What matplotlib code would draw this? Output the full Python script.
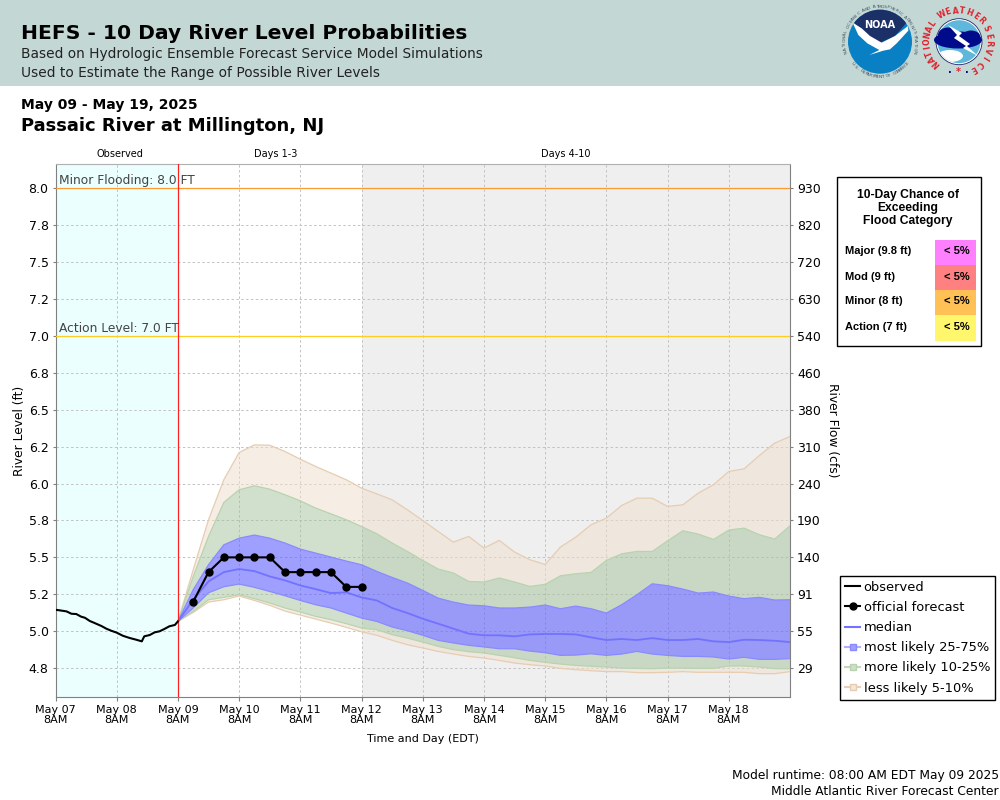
import numpy as np
import matplotlib
matplotlib.use("Agg")
import matplotlib.pyplot as plt
from matplotlib.lines import Line2D
from matplotlib.patches import Circle, Polygon, Rectangle, Ellipse

# days since May 07 8AM
obs_time = [0, .07, .18, .26, .34, .42, .48, .56, .64, .75, .83, .91, 1.0, 1.10, 1.21, 1.32, 1.41,
            1.45, 1.54, 1.62, 1.70, 1.78, 1.86, 1.95, 2.0]
obs_level = [5.145, 5.141, 5.134, 5.118, 5.116, 5.098, 5.091, 5.069, 5.055, 5.035, 5.017, 5.003, 4.990,
             4.969, 4.954, 4.942, 4.931, 4.965, 4.974, 4.992, 4.999, 5.015, 5.033, 5.042, 5.066]

fcst_time = [2.25, 2.5, 2.75, 3.0, 3.25, 3.5, 3.75, 4.0, 4.25, 4.5, 4.75, 5.0]
fcst_level = [5.2, 5.4, 5.5, 5.5, 5.5, 5.5, 5.4, 5.4, 5.4, 5.4, 5.3, 5.3]

# six hourly ensemble traces, May 09 8AM to May 19 8AM
ens_time = [2 + 0.25 * i for i in range(41)]
p95 = [5.066, 5.416, 5.755, 6.026, 6.210, 6.262, 6.260, 6.217, 6.165, 6.116, 6.071, 6.026, 5.969, 5.930,
       5.890, 5.822, 5.750, 5.676, 5.603, 5.642, 5.563, 5.615, 5.536, 5.484, 5.452, 5.570, 5.637, 5.721,
       5.766, 5.852, 5.901, 5.901, 5.845, 5.856, 5.935, 5.992, 6.082, 6.100, 6.190, 6.274, 6.319]
p90 = [5.066, 5.371, 5.642, 5.872, 5.958, 5.985, 5.962, 5.924, 5.883, 5.834, 5.795, 5.755, 5.709, 5.660,
       5.597, 5.540, 5.479, 5.421, 5.394, 5.337, 5.333, 5.360, 5.333, 5.303, 5.317, 5.375, 5.389, 5.398,
       5.479, 5.524, 5.540, 5.540, 5.612, 5.680, 5.658, 5.621, 5.685, 5.698, 5.653, 5.624, 5.714]
p75 = [5.066, 5.281, 5.450, 5.585, 5.630, 5.651, 5.630, 5.597, 5.556, 5.529, 5.502, 5.475, 5.450, 5.405,
       5.364, 5.326, 5.276, 5.224, 5.197, 5.177, 5.172, 5.157, 5.157, 5.163, 5.177, 5.152, 5.170, 5.152,
       5.123, 5.179, 5.247, 5.321, 5.308, 5.285, 5.258, 5.265, 5.238, 5.220, 5.229, 5.211, 5.213]
p50 = [5.066, 5.213, 5.337, 5.400, 5.421, 5.407, 5.371, 5.344, 5.310, 5.285, 5.258, 5.263, 5.229, 5.208,
       5.157, 5.123, 5.084, 5.051, 5.017, 4.983, 4.972, 4.972, 4.965, 4.978, 4.981, 4.981, 4.978, 4.958,
       4.940, 4.947, 4.940, 4.953, 4.940, 4.940, 4.947, 4.931, 4.926, 4.942, 4.940, 4.935, 4.926]
p25 = [5.066, 5.157, 5.260, 5.301, 5.319, 5.297, 5.269, 5.240, 5.208, 5.179, 5.157, 5.123, 5.089, 5.066,
       5.028, 5.003, 4.972, 4.938, 4.920, 4.904, 4.893, 4.881, 4.881, 4.865, 4.854, 4.836, 4.838, 4.847,
       4.836, 4.845, 4.863, 4.845, 4.836, 4.829, 4.829, 4.825, 4.811, 4.823, 4.809, 4.809, 4.814]
p10 = [5.066, 5.134, 5.213, 5.229, 5.247, 5.220, 5.191, 5.157, 5.130, 5.100, 5.078, 5.051, 5.021, 5.010,
       4.976, 4.953, 4.926, 4.897, 4.875, 4.861, 4.852, 4.836, 4.820, 4.802, 4.789, 4.777, 4.768, 4.762,
       4.757, 4.750, 4.748, 4.746, 4.750, 4.750, 4.748, 4.748, 4.764, 4.764, 4.757, 4.746, 4.746]
p05 = [5.066, 5.127, 5.197, 5.213, 5.238, 5.208, 5.175, 5.136, 5.109, 5.082, 5.055, 5.026, 4.996, 4.972,
       4.938, 4.908, 4.886, 4.863, 4.845, 4.829, 4.818, 4.802, 4.784, 4.773, 4.764, 4.748, 4.739, 4.732,
       4.726, 4.726, 4.719, 4.719, 4.721, 4.726, 4.721, 4.721, 4.721, 4.721, 4.712, 4.712, 4.726]

level_ticks = [4.75, 5.0, 5.25, 5.5, 5.75, 6.0, 6.25, 6.5, 6.75, 7.0, 7.25, 7.5, 7.75, 8.0]
level_labels = ["4.8", "5.0", "5.2", "5.5", "5.8", "6.0", "6.2", "6.5", "6.8", "7.0", "7.2", "7.5", "7.8", "8.0"]
flow_labels = ["29", "55", "91", "140", "190", "240", "310", "380", "460", "540", "630", "720", "820", "930"]
day_labels = ["May 07", "May 08", "May 09", "May 10", "May 11", "May 12", "May 13", "May 14", "May 15",
              "May 16", "May 17", "May 18"]

categories = ["Major (9.8 ft)", "Mod (9 ft)", "Minor (8 ft)", "Action (7 ft)"]
chances = ["< 5%", "< 5%", "< 5%", "< 5%"]
cat_colors = ["#ff80ff", "#ff8080", "#ffc055", "#fff66c"]

TAN, TAN_E = "#efdfcc", "#e6cdb2"
GREEN, GREEN_E = "#a3c29c", "#b8d3ae"
BLUE, BLUE_E = "#6060ff", "#8a8aff"

fig = plt.figure(figsize=(10, 8), dpi=100)

# pixel canvas for everything around the plot
ov = fig.add_axes([0, 0, 1, 1], zorder=3)
ov.set_xlim(0, 1000)
ov.set_ylim(800, 0)
ov.axis("off")
ov.patch.set_alpha(0)
ov.add_patch(Rectangle((0, 0), 1000, 85.5, fc="#c3d8d5", ec="none"))

ov.text(21, 33.5, "HEFS - 10 Day River Level Probabilities", fontsize=14.6, fontweight="bold", va="center")
ov.text(21, 54, "Based on Hydrologic Ensemble Forecast Service Model Simulations", fontsize=9.86, va="center", color="#222222")
ov.text(21, 73, "Used to Estimate the Range of Possible River Levels", fontsize=9.86, va="center", color="#222222")
ov.text(21, 105, "May 09 - May 19, 2025", fontsize=10, fontweight="bold", va="center")
ov.text(21, 126, "Passaic River at Millington, NJ", fontsize=13, fontweight="bold", va="center")
ov.text(120, 154, "Observed", fontsize=7, ha="center", va="center")
ov.text(276, 154, "Days 1-3", fontsize=7, ha="center", va="center")
ov.text(566, 154, "Days 4-10", fontsize=7, ha="center", va="center")
ov.text(999, 776, "Model runtime: 08:00 AM EDT May 09 2025", fontsize=8.8, ha="right", va="center")
ov.text(999, 791.5, "Middle Atlantic River Forecast Center", fontsize=8.8, ha="right", va="center")


def arc_text(s, cx, cy, r, start, end, flip=False, **kw):
    # one letter at a time round a circle, angles in degrees clockwise from top
    for ch, a in zip(s, np.linspace(start, end, len(s))):
        t = np.radians(a)
        rot = 180 - a if flip else -a
        ov.text(cx + r * np.sin(t), cy - r * np.cos(t), ch, rotation=rot, ha="center", va="center",
                rotation_mode="anchor", **kw)


def zp(pts):
    # logo outlines were traced in 3x crop coordinates
    return [(780 + x / 3, y / 3) for x, y in pts]


# NOAA logo
nc = Circle((880, 41.7), 32, fc="#0a80c4", ec="none")
ov.add_patch(nc)
navy = Polygon(zp([(205, 20), (395, 20), (395, 70), (378, 70), (345, 108), (300, 128), (262, 108), (222, 68), (205, 68)]),
               fc="#1c3068", ec="none")
ov.add_patch(navy)
navy.set_clip_path(nc)
bird = Polygon(zp([(218, 68), (245, 85), (270, 108), (305, 128), (345, 108), (384, 78), (385, 92), (350, 130), (330, 148),
                   (310, 152), (268, 165), (298, 150), (262, 130), (235, 105)]), fc="white", ec="none")
ov.add_patch(bird)
bird.set_clip_path(nc)
ov.text(880, 25, "NOAA", fontsize=7, color="white", fontweight="bold", ha="center", va="center")
arc_text("NATIONAL OCEANIC AND ATMOSPHERIC ADMINISTRATION", 880, 41.7, 35, -106, 106, fontsize=3.2, color="#445060")
arc_text("U.S. DEPARTMENT OF COMMERCE", 880, 41.7, 35, 232, 128, flip=True, fontsize=3.2, color="#445060")

# NWS logo
ov.add_patch(Circle((959, 41.7), 23, fc="white", ec="#222266", lw=0.6))
ws = Circle((959, 41.7), 21.5, fc="#5fb8dc", ec="none")
ov.add_patch(ws)
low = Ellipse((950, 56), 26, 12, fc="white", ec="none")
ov.add_patch(low)
low.set_clip_path(ws)
ov.add_patch(Ellipse((958, 40), 48, 17, fc="#000b8c", ec="none"))
ov.add_patch(Ellipse((948, 35), 20, 15, fc="#000b8c", ec="none"))
ov.add_patch(Ellipse((971, 37), 19, 13, fc="#000b8c", ec="none"))
ov.add_patch(Polygon([(948, 25), (962, 33), (959, 36), (970, 44), (967, 46), (978, 56), (963, 48), (966, 46), (954, 38), (957, 35)],
                     fc="white", ec="none"))
arc_text("NATIONAL", 958, 41.7, 31, -135, -55, fontsize=5.6, color="#e0202c", fontweight="bold")
arc_text("WEATHER", 958, 41.7, 31, -31, 47, fontsize=5.6, color="#e0202c", fontweight="bold")
arc_text("SERVICE", 958, 41.7, 31, 65, 150, fontsize=5.6, color="#e0202c", fontweight="bold")
ov.text(958, 72, "*", fontsize=7, color="#e0202c", fontweight="bold", ha="center", va="center")
ov.text(949.5, 70, ".", fontsize=7, color="#000b8c", fontweight="bold", ha="center", va="center")
ov.text(966.5, 70, ".", fontsize=7, color="#000b8c", fontweight="bold", ha="center", va="center")

# flood category table
ov.add_patch(Rectangle((836.5, 176.5), 144, 169, fc="white", ec="black", lw=1))
ov.text(908, 195, "10-Day Chance of", fontsize=8.7, fontweight="bold", family="Liberation Sans", ha="center", va="center")
ov.text(908, 208, "Exceeding", fontsize=8.7, fontweight="bold", family="Liberation Sans", ha="center", va="center")
ov.text(908, 221, "Flood Category", fontsize=8.7, fontweight="bold", family="Liberation Sans", ha="center", va="center")
for i, (cat, chance, col) in enumerate(zip(categories, chances, cat_colors)):
    y0 = 240 + 25 * i
    h = 26 if i == 3 else 25
    ov.add_patch(Rectangle((935, y0), 41, h, fc=col, ec="none"))
    ov.text(845, y0 + 11.5, cat, fontsize=8, fontweight="bold", family="Liberation Sans", va="center")
    ov.text(970, y0 + 11.5, chance, fontsize=8, fontweight="bold", family="Liberation Sans", ha="right", va="center")

# main plot
ax = fig.add_axes([0.0555, 1 - 697 / 800, 0.7345, (697 - 164) / 800], zorder=2)
ax.set_xlim(0, 12)
ax.set_ylim(4.554, 8.165)
ax.axvspan(0, 2, fc="#ebffff", ec="none", zorder=0)
ax.axvspan(5, 12, fc="#efefef", ec="none", zorder=0)
ax.set_axisbelow(True)
ax.grid(True, color="#c2c2c2", ls=(0, (2.5, 2.5)), lw=0.7, zorder=1)

ax.fill_between(ens_time, p90, p95, fc=TAN, alpha=0.5, ec="none", zorder=2)
ax.fill_between(ens_time, p05, p10, fc=TAN, alpha=0.5, ec="none", zorder=2)
ax.fill_between(ens_time, p75, p90, fc=GREEN, alpha=0.5, ec="none", zorder=2)
ax.fill_between(ens_time, p10, p25, fc=GREEN, alpha=0.5, ec="none", zorder=2)
ax.fill_between(ens_time, p25, p75, fc=BLUE, alpha=0.6, ec="none", zorder=2)
for vals, col in [(p95, TAN_E), (p05, TAN_E), (p90, GREEN_E), (p10, GREEN_E), (p75, BLUE_E), (p25, BLUE_E)]:
    ax.plot(ens_time, vals, color=col, lw=0.9, zorder=3)
ax.plot(ens_time, p50, color="#7272ff", lw=1.3, zorder=4)

ax.axhline(8.0, color="#ff9a33", lw=0.9, zorder=4)
ax.axhline(7.0, color="#ffcc22", lw=0.9, zorder=4)
ax.axvline(2, color="#ff2020", lw=0.9, zorder=4)
ax.text(0.05, 8.05, "Minor Flooding: 8.0 FT", fontsize=8.8, color="#444444", va="center", zorder=5)
ax.text(0.05, 7.05, "Action Level: 7.0 FT", fontsize=8.8, color="#444444", va="center", zorder=5)

ax.plot(obs_time, obs_level, color="black", lw=1.5, zorder=5)
ax.plot(fcst_time, fcst_level, color="black", lw=1.5, marker="o", ms=5, zorder=6)

ax.set_xticks(range(12))
ax.set_xticklabels([d + "\n8AM" for d in day_labels], fontsize=8, linespacing=1.1)
ax.set_yticks(level_ticks)
ax.set_yticklabels(level_labels, fontsize=9)
ax.tick_params(length=2.5, width=0.8, color="#808080", pad=2.5)
ax.tick_params(axis="x", length=3, pad=2.5)
ax.set_xlabel("Time and Day (EDT)", fontsize=8, labelpad=6)
ax.set_ylabel("River Level (ft)", fontsize=8.8)
ax.yaxis.set_label_coords(-0.040, 0.5)
ax.spines["top"].set_color("#b0b0b0")
for s in ["left", "right", "bottom"]:
    ax.spines[s].set_color("#808080")

ax2 = ax.twinx()
ax2.set_ylim(ax.get_ylim())
ax2.set_yticks(level_ticks)
ax2.set_yticklabels(flow_labels, fontsize=9)
ax2.tick_params(length=2.5, width=0.8, color="#808080", pad=2.5)
ax2.set_ylabel("River Flow (cfs)", fontsize=8.8, rotation=270)
ax2.yaxis.set_label_coords(1.067, 0.5)
for s in ax2.spines.values():
    s.set_visible(False)

handles = [
    Line2D([], [], color="black", lw=1.5),
    Line2D([], [], color="black", lw=1.5, marker="o", ms=5),
    Line2D([], [], color="#7272ff", lw=1.5),
    Line2D([], [], color="#b0b0ff", lw=1.5, marker="s", ms=5, mfc="#9f9fff", mec="#8a8aff"),
    Line2D([], [], color="#c0d8b8", lw=1.5, marker="s", ms=5, mfc="#cddeca", mec="#b8d3ae"),
    Line2D([], [], color="#e8d0b8", lw=1.5, marker="s", ms=5, mfc="#f3e7db", mec="#e6cdb2"),
]
names = ["observed", "official forecast", "median", "most likely 25-75%", "more likely 10-25%", "less likely 5-10%"]
leg = ov.legend(handles, names, loc="upper left", bbox_to_anchor=(839.5 / 1000, 1 - 575.5 / 800), bbox_transform=fig.transFigure,
                fontsize=9.4, frameon=True, fancybox=False, edgecolor="black", framealpha=1, borderpad=0.4, borderaxespad=0,
                labelspacing=0.55, handlelength=1.2, handletextpad=0.25)
leg.get_frame().set_linewidth(1)

plt.savefig("out.png", dpi=100)
